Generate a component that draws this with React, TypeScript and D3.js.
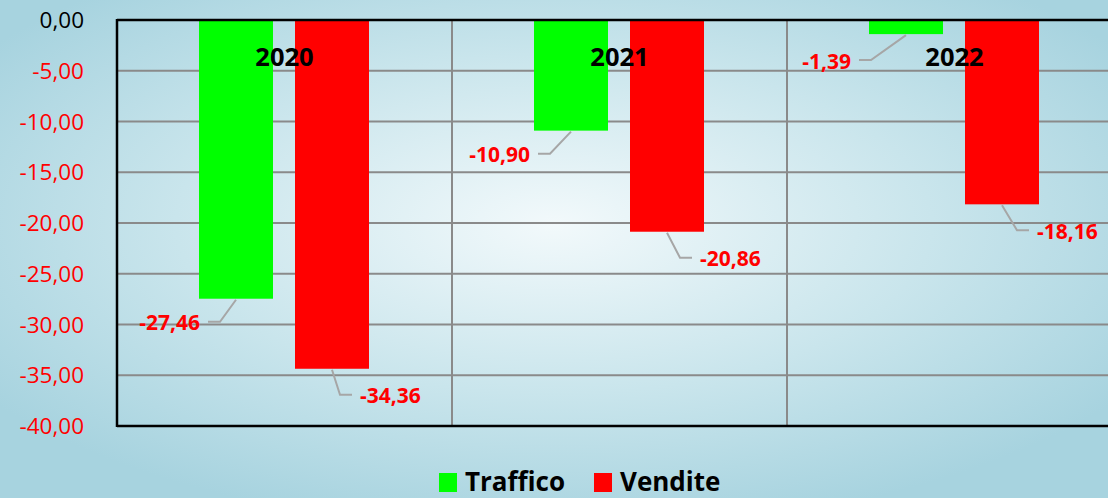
import React from "react";
import * as d3 from "d3";

const years = ["2020", "2021", "2022"];
const seriesNames = ["Traffico", "Vendite"];
const traffico = [-27.46, -10.9, -1.39];
const vendite = [-34.36, -20.86, -18.16];
const yTicks = [0, -5, -10, -15, -20, -25, -30, -35, -40];

const colors: Record<string, string> = { Traffico: "#00ff00", Vendite: "#ff0000" };
// label placement offsets relative to bar end (style only)
const labelOffsets: Record<string, [number, number][]> = {
  Traffico: [[-36, 24], [-41, 24], [-55, 27]],
  Vendite: [[28, 27], [33, 27], [35, 27]],
};

const W = 1108, H = 498;
const left = 117, right = 1122, top = 20, bottom = 426;
const font = "'Open Sans', 'DejaVu Sans', sans-serif";
const fmt = (v: number) => v.toFixed(2).replace(".", ",");

export default function App() {
  const y = d3.scaleLinear().domain([0, -40]).range([top, bottom]);
  const x0 = d3.scaleBand<string>().domain(years).range([left, right]).padding(0);
  const x1 = d3.scaleBand<string>().domain(seriesNames).range([82, 252]).paddingInner(22 / 96).paddingOuter(0);
  const data: Record<string, number[]> = { Traffico: traffico, Vendite: vendite };

  return (
    <svg width={W} height={H} style={{ position: "absolute", left: 0, top: 0, display: "block" }} fontFamily={font}>
      <defs>
        <radialGradient id="bg" cx="0.5" cy="0.45" r="0.62" gradientUnits="objectBoundingBox">
          <stop offset="0" stopColor="#f2f9fb" />
          <stop offset="0.55" stopColor="#c9e5ec" />
          <stop offset="1" stopColor="#a7d3df" />
        </radialGradient>
      </defs>
      <rect x={0} y={0} width={W} height={H} fill="url(#bg)" />
      {/* gridlines */}
      {yTicks.filter(t => t !== 0 && t !== -40).map(t => (
        <line key={"g" + t} x1={left} x2={right} y1={y(t)} y2={y(t)} stroke="#8a8a8a" strokeWidth={2} />
      ))}
      {years.slice(1).map(yr => (
        <line key={"v" + yr} x1={x0(yr)!} x2={x0(yr)!} y1={top} y2={bottom} stroke="#8a8a8a" strokeWidth={2} />
      ))}
      {/* bars */}
      {years.map((yr, i) =>
        seriesNames.map(s => {
          const v = data[s][i];
          const bx = x0(yr)! + x1(s)!;
          return (
            <rect key={yr + s} x={bx} y={y(0)} width={x1.bandwidth()} height={y(v) - y(0)} fill={colors[s]} />
          );
        })
      )}
      {/* axes border */}
      <line x1={left} x2={right} y1={top} y2={top} stroke="#000" strokeWidth={2.5} />
      <line x1={left} x2={right} y1={bottom} y2={bottom} stroke="#000" strokeWidth={2.5} />
      <line x1={left} x2={left} y1={top - 1} y2={bottom + 1} stroke="#000" strokeWidth={2.5} />
      {/* y tick labels */}
      {yTicks.map(t => (
        <text key={"t" + t} x={84} y={y(t)} dy="0.36em" textAnchor="end" fontSize={22.5}
          fill={t === 0 ? "#000" : "#ff0000"}>{fmt(t)}</text>
      ))}
      {/* year labels */}
      {years.map(yr => (
        <text key={"y" + yr} x={x0(yr)! + x0.bandwidth() / 2} y={66} textAnchor="middle" fontSize={25.5}
          fontWeight="bold" fill="#000">{yr}</text>
      ))}
      {/* data labels with leaders */}
      {years.map((yr, i) =>
        seriesNames.map(s => {
          const v = data[s][i];
          const cx = x0(yr)! + x1(s)! + x1.bandwidth() / 2;
          const by = y(v);
          const [dx, dy] = labelOffsets[s][i];
          const dir = dx < 0 ? -1 : 1;
          const ly = by + dy;
          const ex = cx + dx - dir * 8;
          const kx = ex - dir * 12;
          return (
            <g key={"l" + yr + s}>
              <polyline points={`${cx},${by + 1} ${kx},${ly - 1} ${ex},${ly - 1}`} fill="none" stroke="#a6a6a6" strokeWidth={2} />
              <text x={cx + dx} y={ly} dy="0.36em" textAnchor={dir < 0 ? "end" : "start"} fontSize={21}
                fontWeight="bold" fill="#ff0000">{fmt(v)}</text>
            </g>
          );
        })
      )}
      {/* legend */}
      <rect x={439} y={473} width={18} height={19} fill={colors.Traffico} />
      <text x={465} y={491} fontSize={26} fontWeight="bold" fill="#000">Traffico</text>
      <rect x={594} y={473} width={18} height={19} fill={colors.Vendite} />
      <text x={620} y={491} fontSize={26} fontWeight="bold" fill="#000">Vendite</text>
    </svg>
  );
}
